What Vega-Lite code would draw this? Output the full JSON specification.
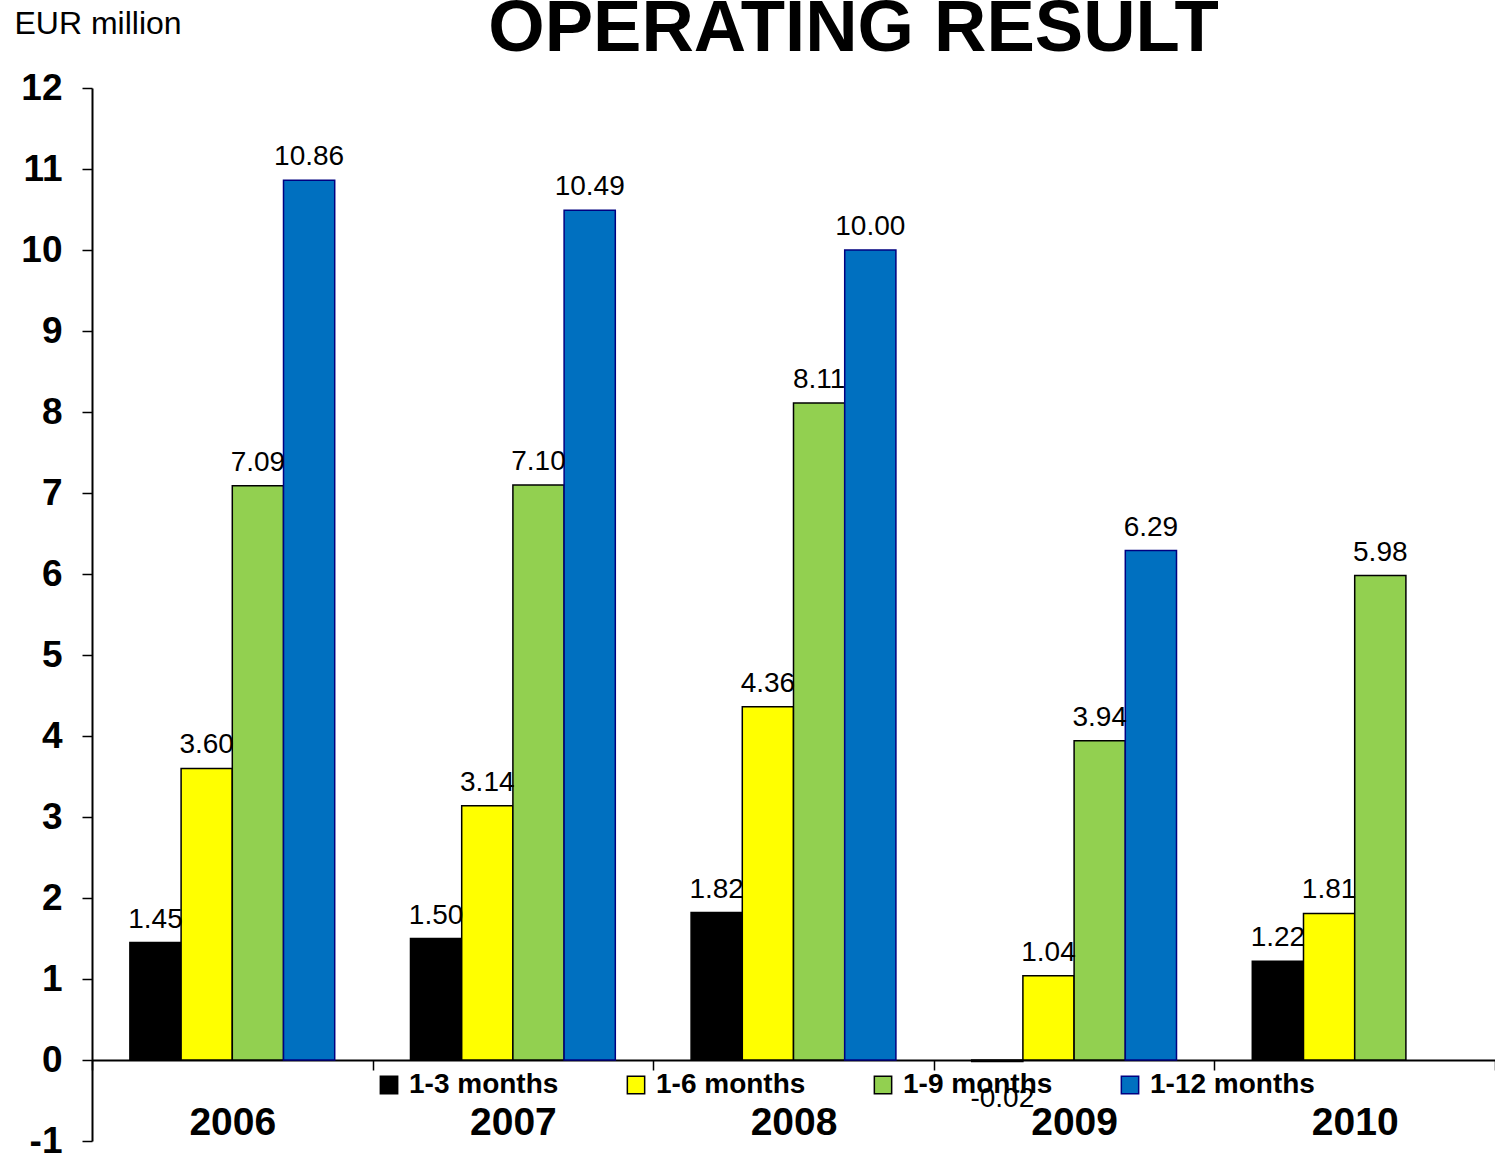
{
  "$schema": "https://vega.github.io/schema/vega-lite/v6.json",
  "width": 1403,
  "height": 1053,
  "autosize": {"type": "none"},
  "padding": {"left": 92, "top": 88, "right": 0, "bottom": 20},
  "background": "white",
  "config": {
    "view": {"stroke": null},
    "axis": {"grid": false},
    "locale": {"number": {"decimal": ".", "thousands": ",", "grouping": [3], "currency": ["", ""], "minus": "-"}}
  },
  "data": {
    "values": [
      {"year": "2006", "period": "1-3 months", "value": 1.45},
      {"year": "2006", "period": "1-6 months", "value": 3.60},
      {"year": "2006", "period": "1-9 months", "value": 7.09},
      {"year": "2006", "period": "1-12 months", "value": 10.86},
      {"year": "2007", "period": "1-3 months", "value": 1.50},
      {"year": "2007", "period": "1-6 months", "value": 3.14},
      {"year": "2007", "period": "1-9 months", "value": 7.10},
      {"year": "2007", "period": "1-12 months", "value": 10.49},
      {"year": "2008", "period": "1-3 months", "value": 1.82},
      {"year": "2008", "period": "1-6 months", "value": 4.36},
      {"year": "2008", "period": "1-9 months", "value": 8.11},
      {"year": "2008", "period": "1-12 months", "value": 10.00},
      {"year": "2009", "period": "1-3 months", "value": -0.02},
      {"year": "2009", "period": "1-6 months", "value": 1.04},
      {"year": "2009", "period": "1-9 months", "value": 3.94},
      {"year": "2009", "period": "1-12 months", "value": 6.29},
      {"year": "2010", "period": "1-3 months", "value": 1.22},
      {"year": "2010", "period": "1-6 months", "value": 1.81},
      {"year": "2010", "period": "1-9 months", "value": 5.98}
    ]
  },
  "encoding": {
    "xOffset": {
      "field": "period",
      "type": "nominal",
      "sort": ["1-3 months", "1-6 months", "1-9 months", "1-12 months"],
      "scale": {"paddingInner": 0, "paddingOuter": 0.74}
    },
    "y": {
      "field": "value",
      "type": "quantitative",
      "scale": {"domain": [-1, 12], "nice": false, "zero": false},
      "axis": {
        "orient": "left",
        "values": [-1, 0, 1, 2, 3, 4, 5, 6, 7, 8, 9, 10, 11, 12],
        "format": "d",
        "tickSize": 10,
        "tickWidth": 1.5,
        "tickColor": "black",
        "domainColor": "black",
        "domainWidth": 2,
        "labelFontSize": 37,
        "labelFontWeight": "bold",
        "labelFont": "Liberation Sans",
        "labelColor": "black",
        "labelPadding": 20,
        "labelFlush": false,
        "title": "EUR million",
        "titleAngle": 0,
        "titleAlign": "left",
        "titleBaseline": "alphabetic",
        "titleX": -78,
        "titleY": -55,
        "titleFontSize": 32,
        "titleFontWeight": "normal",
        "titleFont": "Liberation Sans",
        "titleColor": "black"
      }
    }
  },
  "resolve": {"axis": {"x": "independent"}},
  "layer": [
    {
      "mark": {"type": "bar", "strokeWidth": 1.5},
      "encoding": {
        "x": {
          "field": "year",
          "type": "nominal",
          "scale": {"paddingInner": 0, "paddingOuter": 0},
          "axis": {
            "orient": "bottom",
            "offset": -81,
            "tickBand": "extent",
            "ticks": true,
            "tickSize": 10,
            "tickColor": "black",
            "tickWidth": 1.5,
            "domainColor": "black",
            "domainWidth": 2,
            "labelFontSize": 39,
            "labelFont": "Liberation Sans",
            "labelFontWeight": "bold",
            "labelColor": "black",
            "labelPadding": 33,
            "labelAngle": 0,
            "title": null
          }
        },
        "fill": {
          "field": "period",
          "type": "nominal",
          "sort": ["1-3 months", "1-6 months", "1-9 months", "1-12 months"],
          "scale": {
            "domain": ["1-3 months", "1-6 months", "1-9 months", "1-12 months"],
            "range": ["#000000", "#FFFF00", "#92D050", "#0070C0"]
          },
          "legend": {
            "orient": "none",
            "legendX": 283,
            "legendY": 983,
            "direction": "horizontal",
            "columns": 4,
            "title": null,
            "symbolType": "square",
            "symbolSize": 300,
            "symbolStrokeWidth": 1.5,
            "labelFontSize": 28,
            "labelFont": "Liberation Sans",
            "labelFontWeight": "bold",
            "labelColor": "black",
            "labelOffset": 6,
            "labelLimit": 400,
            "columnPadding": 63
          }
        },
        "stroke": {
          "field": "period",
          "type": "nominal",
          "sort": ["1-3 months", "1-6 months", "1-9 months", "1-12 months"],
          "scale": {
            "domain": ["1-3 months", "1-6 months", "1-9 months", "1-12 months"],
            "range": ["#000000", "#000000", "#000000", "#000080"]
          }
        }
      }
    },
    {
      "transform": [{"filter": "datum.value >= 0"}],
      "mark": {"type": "text", "baseline": "alphabetic", "dy": -15, "fontSize": 28, "font": "Liberation Sans", "color": "black"},
      "encoding": {
        "x": {
          "field": "year",
          "type": "nominal",
          "axis": {
            "orient": "top",
            "domain": false,
            "ticks": false,
            "labels": false,
            "title": "OPERATING RESULT",
            "titleX": 761,
            "titleY": -38,
            "titleAlign": "center",
            "titleAnchor": null,
            "titleBaseline": "alphabetic",
            "titleFontSize": 72.5,
            "titleFontWeight": "bold",
            "titleFont": "Liberation Sans",
            "titleColor": "black"
          }
        },
        "text": {"field": "value", "type": "quantitative", "format": ".2f"}
      }
    },
    {
      "transform": [{"filter": "datum.value < 0"}],
      "mark": {"type": "text", "baseline": "top", "dy": 23, "dx": 5, "fontSize": 28, "font": "Liberation Sans", "color": "black"},
      "encoding": {
        "x": {"field": "year", "type": "nominal", "axis": null},
        "text": {"field": "value", "type": "quantitative", "format": ".2f"}
      }
    }
  ]
}
